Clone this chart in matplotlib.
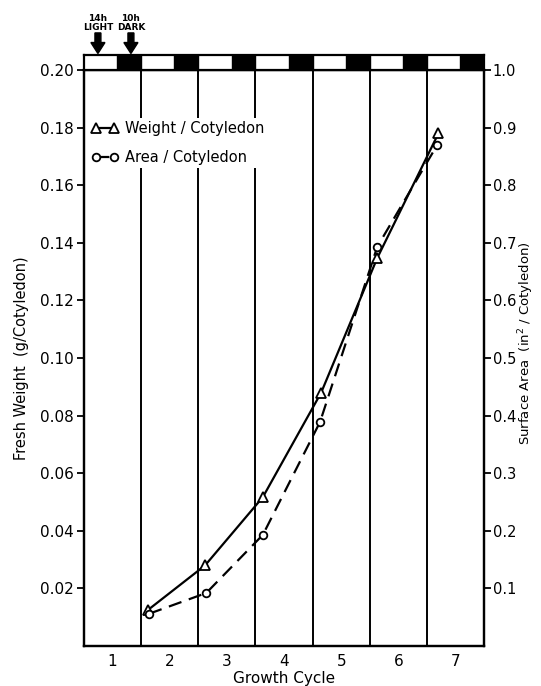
import numpy as np
import matplotlib.pyplot as plt
from matplotlib.patches import Rectangle, FancyArrow

# data
cycles = [1, 2, 3, 4, 5, 6, 7]
weight_x = [1.62, 2.62, 3.63, 4.65, 5.63, 6.70]
weight = [0.0125, 0.028, 0.0517, 0.088, 0.1347, 0.178]   # g / cotyledon
area_x = [1.64, 2.64, 3.63, 4.63, 5.63, 6.68]
area = [0.056, 0.092, 0.193, 0.389, 0.693, 0.870]        # in^2 / cotyledon

light_hours = 14
dark_hours = 10

left_ticks = [0.02, 0.04, 0.06, 0.08, 0.10, 0.12, 0.14, 0.16, 0.18, 0.20]
left_labels = ['0.02', '0.04', '0.06', '0.08', '0.10', '0.12', '0.14', '0.16', '0.18', '0.20']
right_ticks = [0.1, 0.2, 0.3, 0.4, 0.5, 0.6, 0.7, 0.8, 0.9, 1.0]
right_labels = ['0.1', '0.2', '0.3', '0.4', '0.5', '0.6', '0.7', '0.8', '0.9', '1.0']

fig = plt.figure(figsize=(5.41, 6.86), dpi=100)
ax = fig.add_axes([0.155, 0.0583, 0.740, 0.8397])
ax.set_xlim(0.5, 7.5)
ax.set_ylim(0, 0.20)

for s in ax.spines.values():
    s.set_linewidth(1.6)

# cycle boundaries
for c in cycles[:-1]:
    ax.axvline(c + 0.5, color='black', lw=1.4, zorder=1)

ax.plot(weight_x, weight, '-', color='black', lw=1.6, marker='^', ms=7,
        mfc='white', mec='black', mew=1.3, zorder=3, label='Weight / Cotyledon')

ax2 = ax.twinx()
ax2.set_ylim(0, 1.0)
ax2.plot(area_x, area, '--', color='black', lw=1.6, dashes=(6, 3.5), marker='o', ms=5.5,
         mfc='white', mec='black', mew=1.3, zorder=3, label='Area / Cotyledon')

ax.set_xticks(cycles)
ax.set_xticklabels([str(c) for c in cycles], fontsize=11)
ax.tick_params(axis='x', length=0, pad=6)
ax.set_yticks(left_ticks)
ax.set_yticklabels(left_labels, fontsize=11)
ax.tick_params(axis='y', length=5, width=1.3, direction='out', pad=2)
ax2.set_yticks(right_ticks)
ax2.set_yticklabels(right_labels, fontsize=10.5)
ax2.tick_params(axis='y', length=5, width=1.3, direction='out', pad=1)
for s in ax2.spines.values():
    s.set_linewidth(1.6)

ax.set_xlabel('Growth Cycle', fontsize=11, labelpad=1)
ax.set_ylabel('Fresh Weight  (g/Cotyledon)', fontsize=10.5, labelpad=8)
fig.text(0.973, 0.5, 'Surface Area  (in$^2$ / Cotyledon)', fontsize=9.5,
         rotation=90, ha='center', va='center')

h1, l1 = ax.get_legend_handles_labels()
h2, l2 = ax2.get_legend_handles_labels()
leg = ax2.legend(h1 + h2, l1 + l2, loc='upper left', bbox_to_anchor=(0.005, 0.922),
                 frameon=True, fancybox=False, numpoints=2, handlelength=1.8,
                 fontsize=10.5, labelspacing=1.0, handletextpad=0.5,
                 borderpad=0.2, borderaxespad=0.2)
leg.get_frame().set_facecolor('white')
leg.get_frame().set_edgecolor('none')
leg.get_frame().set_alpha(1)

# light / dark strip above the plot
strip = fig.add_axes([0.155, 0.898, 0.740, 0.0215])
strip.set_xlim(0.5, 7.5)
strip.set_ylim(0, 1)
strip.set_xticks([])
strip.set_yticks([])
for s in strip.spines.values():
    s.set_linewidth(1.6)
day = light_hours + dark_hours
for c in cycles:
    start = c - 0.5 + light_hours / day
    strip.add_patch(Rectangle((start, 0), dark_hours / day, 1, color='black'))
    if c > 1:
        strip.axvline(c - 0.5, color='black', lw=1.4)

# arrows
fig.text(0.181, 0.966, '14h\nLIGHT', ha='center', va='center', fontsize=6.5,
         fontweight='bold', linespacing=1.0)
fig.text(0.242, 0.966, '10h\nDARK', ha='center', va='center', fontsize=6.5,
         fontweight='bold', linespacing=1.0)
for xa in [0.181, 0.242]:
    fig.patches.append(FancyArrow(
        xa, 0.952, 0, -0.03, width=0.011, head_width=0.026, head_length=0.016,
        color='black', transform=fig.transFigure, length_includes_head=True))

fig.savefig('out.png', dpi=100)
